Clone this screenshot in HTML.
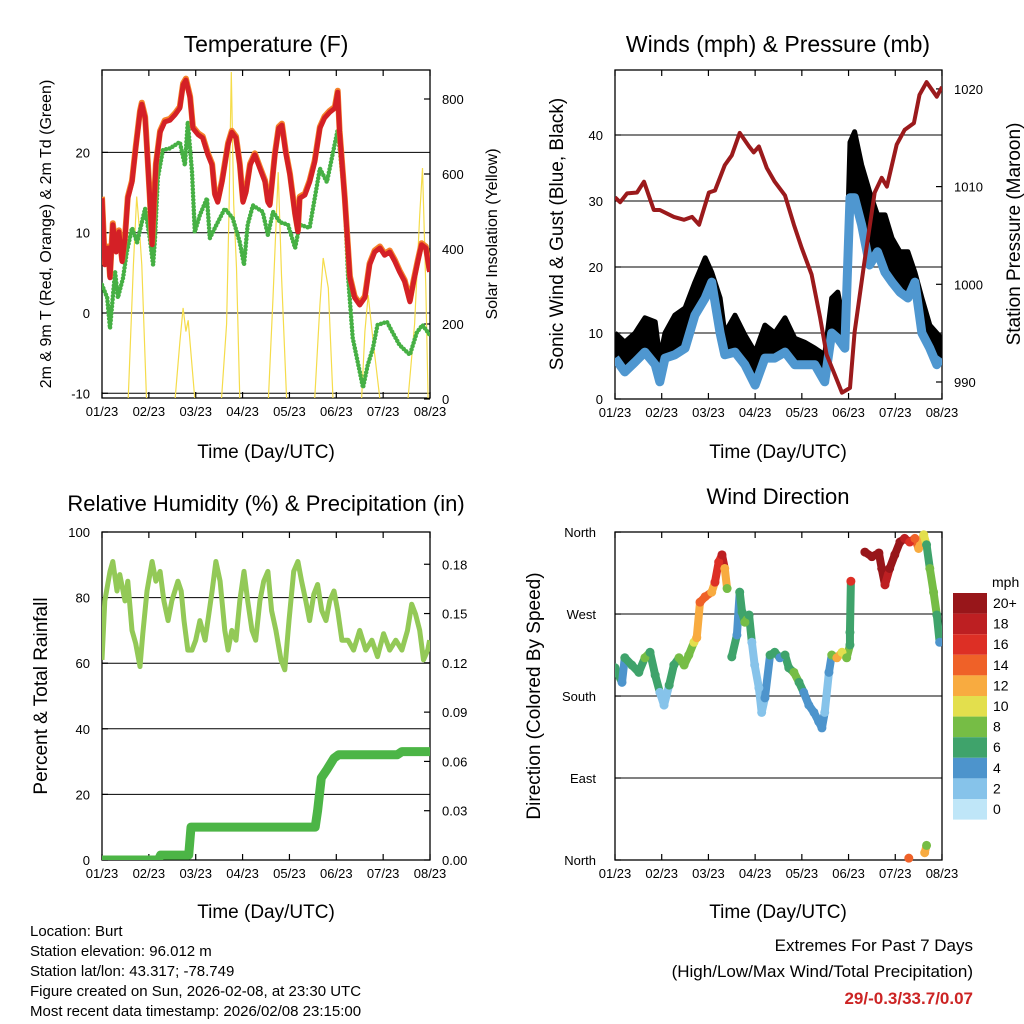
<!DOCTYPE html>
<html><head><meta charset="utf-8"><style>
html,body{margin:0;padding:0;background:#fff}
svg{display:block;font-family:"Liberation Sans",sans-serif}
</style></head><body>
<svg id="svg" width="1024" height="1024" viewBox="0 0 1024 1024" xmlns="http://www.w3.org/2000/svg">
<defs>
<clipPath id="c1"><rect x="102" y="70" width="328" height="328"/></clipPath>
<clipPath id="c2"><rect x="615" y="70" width="327" height="329"/></clipPath>
<clipPath id="c3"><rect x="102" y="532" width="328" height="328"/></clipPath>
<clipPath id="c4"><rect x="615" y="526" width="327" height="340"/></clipPath>
</defs>
<g id="g1"></g>
<g id="g2"></g>
<g id="g3"></g>
<g id="g4"></g>
<g font-size="15" fill="#000">
<text x="30" y="936">Location: Burt</text>
<text x="30" y="956">Station elevation: 96.012 m</text>
<text x="30" y="976">Station lat/lon: 43.317; -78.749</text>
<text x="30" y="996">Figure created on Sun, 2026-02-08, at 23:30 UTC</text>
<text x="30" y="1016">Most recent data timestamp: 2026/02/08 23:15:00</text>
</g>
<g text-anchor="end">
<text x="973" y="951" font-size="17">Extremes For Past 7 Days</text>
<text x="973" y="977" font-size="17">(High/Low/Max Wind/Total Precipitation)</text>
<text x="973" y="1004" font-size="17" font-weight="bold" fill="#cc2424">29/-0.3/33.7/0.07</text>
</g>
</svg>
<script>
// ---------- data ----------
const dayLabels = ["01/23","02/23","03/23","04/23","05/23","06/23","07/23","08/23"];
const tempDays = [0,0.02,0.06,0.13,0.17,0.23,0.30,0.36,0.43,0.49,0.55,0.64,0.72,0.81,0.85,0.92,0.94,1.02,1.07,1.15,1.24,1.34,1.45,1.56,1.66,1.73,1.79,1.88,1.94,2.05,2.15,2.26,2.35,2.41,2.47,2.56,2.69,2.77,2.86,2.94,3.01,3.07,3.16,3.26,3.37,3.48,3.54,3.58,3.69,3.77,3.84,3.92,4.01,4.12,4.18,4.22,4.33,4.43,4.54,4.65,4.75,4.86,4.97,5.03,5.07,5.18,5.29,5.39,5.50,5.61,5.71,5.82,5.93,6.03,6.14,6.25,6.35,6.46,6.57,6.65,6.74,6.82,6.91,6.99];
const tempValues = [14.3,11.8,6,8.1,4.4,11,7.6,10.1,6.4,9.3,14.3,16.3,20.5,25,26,24.3,22.5,14.3,8.5,18.4,22.5,23.8,24,24.7,25.5,28.4,29,26.8,23,22.2,21.8,19.7,18.4,14.7,13.8,16.3,21,22.5,21.8,18.4,13.8,15,18.4,19.7,18,16.3,13.8,13.4,19.7,23,23.4,20,17.2,12.2,10.1,14.3,14.7,16.3,18.8,23,24.3,25,25.5,27.5,22.5,14.3,4.4,1.9,1,1.9,6,7.6,8.1,7.2,7.6,6.4,5.1,3.9,1.4,3.9,6.4,8.5,8.1,5.1];
const dewDays = [0,0.11,0.17,0.28,0.34,0.45,0.53,0.64,0.75,0.92,1.02,1.09,1.13,1.19,1.30,1.45,1.66,1.77,1.83,1.92,1.98,2.09,2.24,2.30,2.41,2.62,2.79,2.94,3.03,3.11,3.22,3.43,3.54,3.65,3.80,3.97,4.12,4.22,4.43,4.65,4.80,4.93,5.03,5.18,5.25,5.35,5.50,5.57,5.67,5.78,5.88,6.08,6.20,6.35,6.57,6.72,6.84,6.99];
const dewValues = [3.5,1.9,-1.9,5.1,1.9,4.4,7.6,10.6,8.8,13,9.3,6,9.3,16.8,20.3,20.5,21.3,18.4,23.8,17.6,10.1,12.2,14.3,9.3,10.6,13,11.8,8.8,6,11,13.4,12.6,9.7,12.6,11.3,11,8.1,11,10.6,18,16.3,20,22.8,14.3,4.7,-3.1,-7.3,-9.3,-6.5,-4.4,-1.5,-1.1,-2.4,-4,-5.2,-2.4,-1.5,-2.7];
const solarDays = [0,0.56,0.67,0.74,0.80,0.85,0.95,1.56,1.66,1.73,1.79,1.84,1.98,2.55,2.66,2.71,2.76,2.81,2.87,2.94,3.55,3.65,3.76,3.83,3.94,4.54,4.65,4.72,4.83,4.93,5.54,5.61,5.68,5.79,5.93,6.53,6.67,6.78,6.84,6.91,6.96,7];
const solarValues = [0,0,357,540,450,357,0,0,150,243,180,210,0,0,200,500,872,520,350,0,0,270,605,330,0,0,250,376,296,0,0,180,277,150,0,0,200,490,616,300,0,0];
const windDays = [0,0.21,0.43,0.64,0.86,0.96,1.07,1.28,1.50,1.71,1.93,2.07,2.25,2.35,2.57,2.78,3.00,3.21,3.42,3.64,3.85,4.06,4.28,4.49,4.64,4.77,4.92,5.03,5.13,5.28,5.45,5.62,5.78,5.93,6.10,6.27,6.42,6.57,6.74,6.89,6.99];
const gustValues = [10,8.6,10,12.3,11.7,6.2,10,12.7,13.8,17.7,21.4,19.2,15.3,10,12.7,9.7,7.1,11.2,10,12.3,9.2,8.6,7.7,6.7,15.3,16.2,10.8,38.9,40.5,35.5,31.4,27.9,27.9,24.4,22.3,22.3,19.2,15.3,11.2,10,9.2];
const sustValues = [6.2,4.1,5.6,7.1,5.2,2.6,6.2,6.7,7.7,12.7,15.3,17.7,10,6.7,7.1,5.2,2.1,6.2,6.2,7.1,5.2,5.2,5.2,2.6,10,9.2,7.7,30.5,30.5,26.4,20.3,22.3,19.2,17.7,16.2,15.3,17.7,10,7.7,5.2,6.2];
const presDays = [0,0.11,0.26,0.47,0.62,0.83,0.96,1.26,1.48,1.65,1.80,2.01,2.14,2.35,2.50,2.67,2.87,2.97,3.08,3.25,3.42,3.64,3.83,4.00,4.21,4.39,4.53,4.71,4.86,5.03,5.13,5.33,5.56,5.71,5.82,6.03,6.20,6.40,6.52,6.67,6.89,7.0];
const presValues = [1008.9,1008.4,1009.3,1009.4,1010.5,1007.6,1007.6,1006.9,1006.6,1006.9,1006.1,1009.4,1009.6,1012.2,1013.2,1015.5,1014.1,1013.5,1014.1,1011.9,1010.5,1009.1,1006.1,1003.7,1001,996.6,992.8,990.7,988.9,989.4,995.1,1002,1009.4,1010.9,1010,1014.3,1015.8,1016.5,1019.4,1020.7,1019.2,1020.2];
const rhDays = [0,0.06,0.17,0.23,0.32,0.38,0.49,0.55,0.64,0.72,0.81,0.87,0.96,1.07,1.15,1.24,1.32,1.41,1.49,1.62,1.69,1.75,1.83,1.92,2.00,2.09,2.20,2.26,2.35,2.43,2.52,2.62,2.69,2.77,2.86,2.94,3.03,3.11,3.20,3.28,3.37,3.45,3.54,3.62,3.71,3.82,3.90,3.99,4.09,4.18,4.26,4.35,4.43,4.52,4.60,4.69,4.78,4.86,4.95,5.03,5.12,5.25,5.37,5.50,5.63,5.76,5.88,6.01,6.14,6.27,6.40,6.52,6.61,6.69,6.78,6.86,6.95,6.99];
const rhValues = [61,79,88,91,82,87,79,85,70,66,59,69,82,91,85,88,79,73,79,85,82,73,64,64,67,73,67,73,82,91,85,70,64,70,67,79,88,79,70,67,79,85,88,76,70,61,58,73,88,91,85,79,73,81,84,76,73,79,82,76,67,67,64,70,64,67,62,69,64,67,64,70,78,75,70,61,64,67];
const precipDays = [0,1.2,1.25,1.85,1.9,4.55,4.6,4.68,4.8,4.95,5.05,6.3,6.4,7];
const precipValues = [0,0,0.003,0.003,0.02,0.02,0.03,0.05,0.055,0.062,0.064,0.064,0.066,0.066];
const dirDays = [0,0.15,0.21,0.36,0.51,0.64,0.75,0.86,0.96,1.05,1.16,1.26,1.37,1.48,1.58,1.69,1.75,1.82,1.93,2.07,2.14,2.22,2.29,2.35,2.40,2.50,2.61,2.67,2.72,2.78,2.87,2.93,2.99,3.08,3.14,3.21,3.32,3.42,3.53,3.64,3.72,3.83,3.94,4.04,4.15,4.26,4.36,4.43,4.49,4.58,4.64,4.75,4.86,4.96,5.03,5.03,5.05,5.35,5.50,5.65,5.71,5.78,5.88,5.99,6.10,6.20,6.31,6.42,6.50,6.61,6.67,6.74,6.82,6.89,6.95,6.29,6.63,6.67];
const dirValues = [211,195,222,214,206,222,228,203,184,170,192,214,222,214,225,239,244,283,289,294,305,327,335,320,298,223,247,294,272,261,269,239,214,189,162,178,225,228,222,225,211,206,195,184,170,162,152,145,162,206,225,222,228,222,236,250,306,338,333,337,320,302,320,335,349,353,349,353,342,357,346,320,294,269,239,2,8,16];
const dirSpeeds = [6,4,6,6,6,8,7,7,2,2,6,7,8,8,8,10,12,14,14,13,16,17,18,12,8,6,4,6,6,8,6,3,2,3,3,4,6,6,5,6,7,8,7,5,4,4,5,4,3,4,9,12,10,9,7,6,16,20,20,21,21,19,20,20,20,18,17,15,12,11,6,8,8,7,5,14,12,8];
const speedLabels = ["0","2","4","6","8","10","12","14","16","18","20+"];
const speedColors = ["#bfe6f8","#86c3ea","#4d94cc","#3fa36b","#76bd45","#e3df4d","#f8ab40","#ef6128","#dd2f25","#bd1f22","#98161a"];

// ---------- helpers ----------
const NS="http://www.w3.org/2000/svg";
function el(parent,tag,attrs,text){const e=document.createElementNS(NS,tag);for(const k in attrs)e.setAttribute(k,attrs[k]);if(text!==undefined)e.textContent=text;parent.appendChild(e);return e;}
function pts(xs,ys,fx,fy){return xs.map((d,i)=>fx(d).toFixed(1)+","+fy(ys[i]).toFixed(1)).join(" ");}

// axis functions
const xL=d=>102+d*46.86, xR=d=>615+d*46.71;
const yT=v=>313-v*8.03, yS=s=>399-s*0.375;
const yW=v=>399-v*6.6, yP=p=>382-(p-990)*9.77;
const yRH=v=>860-v*3.28, yPr=v=>860-v*1643;
const yD=v=>860-v*0.911;

function frame(g,x0,y0,w,h,fx,gridYs,name){
  for(const gy of gridYs){
    const l=el(g,"line",{x1:x0,x2:x0+w,y1:gy,y2:gy,stroke:"#000","stroke-width":1});
    
    
  }
  const r=el(g,"rect",{x:x0,y:y0,width:w,height:h,fill:"none",stroke:"#000","stroke-width":1.3});
  
  
  dayLabels.forEach((lab,i)=>{
    const xx=fx(i);
    el(g,"line",{x1:xx,x2:xx,y1:y0+h,y2:y0+h-6,stroke:"#000","stroke-width":1.2});
    el(g,"line",{x1:xx,x2:xx,y1:y0,y2:y0+6,stroke:"#000","stroke-width":1.2});
    const t=el(g,"text",{x:xx,y:y0+h+18,"font-size":13,"text-anchor":"middle"},lab);
    
    
  });
}
function yTicks(g,vals,fy,x,anchor,side,fmt,name,tickX,inward){
  vals.forEach(v=>{
    const yy=fy(v);
    el(g,"line",{x1:tickX,x2:tickX+inward,y1:yy,y2:yy,stroke:"#000","stroke-width":1.2});
    const t=el(g,"text",{x:x,y:yy+5,"font-size":13,"text-anchor":anchor},fmt(v));
    
    
  });
}
function label(g,txt,x,y,size,rot,name){
  const t=el(g,"text",{x:x,y:y,"font-size":size,"text-anchor":"middle",transform:rot?`rotate(-90 ${x} ${y})`:""},txt);
  
  
  return t;
}

// ---------- panel 1 ----------
const g1=document.getElementById("g1");
label(g1,"Temperature (F)",266,52,23,false,"temperature-title");
frame(g1,102,70,328,328,xL,[-10,0,10,20].map(yT),"temp");
yTicks(g1,[-10,0,10,20],yT,90,"end","l",v=>String(v),"temp-y-tick-label",102,6);
yTicks(g1,[0,200,400,600,800],yS,442,"start","r",v=>String(v),"solar-y-tick-label",430,-6);
label(g1,"Time (Day/UTC)",266,458,19,false,"temp-x-axis-title");
label(g1,"2m & 9m T (Red, Orange) & 2m Td (Green)",51,234,16,true,"temp-left-axis-title");
label(g1,"Solar Insolation (Yellow)",497,234,16,true,"solar-right-axis-title");
const c1=el(g1,"g",{"clip-path":"url(#c1)"});
const sol=el(c1,"polyline",{points:pts(solarDays,solarValues,xL,yS),fill:"none",stroke:"#f5dc4a","stroke-width":1.2});


const dew=el(c1,"polyline",{points:pts(dewDays,dewValues,xL,yT),fill:"none",stroke:"#46b044","stroke-width":4.5,"stroke-dasharray":"0 3.5","stroke-linecap":"round","stroke-linejoin":"round"});


const t9=el(c1,"polyline",{points:pts(tempDays,tempValues,xL,v=>yT(v)-1.5),fill:"none",stroke:"#f5822a","stroke-width":6,"stroke-linejoin":"round"});


const t2=el(c1,"polyline",{points:pts(tempDays,tempValues,xL,yT),fill:"none",stroke:"#d42026","stroke-width":5,"stroke-linejoin":"round"});



// ---------- panel 2 ----------
const g2=document.getElementById("g2");
label(g2,"Winds (mph) & Pressure (mb)",778,52,23,false,"winds-title");
frame(g2,615,70,327,329,xR,[10,20,30,40].map(yW),"wind");
yTicks(g2,[0,10,20,30,40],yW,603,"end","l",v=>String(v),"wind-y-tick-label",615,6);
yTicks(g2,[990,1000,1010,1020],yP,954,"start","r",v=>String(v),"pressure-y-tick-label",942,-6);
label(g2,"Time (Day/UTC)",778,458,19,false,"wind-x-axis-title");
label(g2,"Sonic Wind & Gust (Blue, Black)",563,234,19,true,"wind-left-axis-title");
label(g2,"Station Pressure (Maroon)",1020,234,19,true,"pressure-right-axis-title");
const c2=el(g2,"g",{"clip-path":"url(#c2)"});
let area=windDays.map((d,i)=>xR(d).toFixed(1)+","+yW(gustValues[i]).toFixed(1));
for(let i=windDays.length-1;i>=0;i--)area.push(xR(windDays[i]).toFixed(1)+","+yW(sustValues[i]).toFixed(1));
const ga=el(c2,"polygon",{points:area.join(" "),fill:"#000"});


const gl=el(c2,"polyline",{points:pts(windDays,gustValues,xR,yW),fill:"none",stroke:"#000","stroke-width":5,"stroke-linejoin":"round"});


const sl=el(c2,"polyline",{points:pts(windDays,sustValues,xR,yW),fill:"none",stroke:"#4f97d0","stroke-width":9,"stroke-linejoin":"round"});


const pl=el(c2,"polyline",{points:pts(presDays,presValues,xR,yP),fill:"none",stroke:"#9b1a1c","stroke-width":4,"stroke-linejoin":"round"});



// ---------- panel 3 ----------
const g3=document.getElementById("g3");
label(g3,"Relative Humidity (%) & Precipitation (in)",266,511,22,false,"humidity-title");
frame(g3,102,532,328,328,xL,[20,40,60,80].map(yRH),"rh");
yTicks(g3,[0,20,40,60,80,100],yRH,90,"end","l",v=>String(v),"rh-y-tick-label",102,6);
yTicks(g3,[0,0.03,0.06,0.09,0.12,0.15,0.18],v=>860-v*1643,442,"start","r",v=>v.toFixed(2),"precip-y-tick-label",430,-6);
label(g3,"Time (Day/UTC)",266,918,19,false,"rh-x-axis-title");
label(g3,"Percent & Total Rainfall",47,696,19,true,"rh-left-axis-title");
const c3=el(g3,"g",{"clip-path":"url(#c3)"});
const rl=el(c3,"polyline",{points:pts(rhDays,rhValues,xL,yRH),fill:"none",stroke:"#93c957","stroke-width":5,"stroke-linejoin":"round"});


const prl=el(c3,"polyline",{points:pts(precipDays,precipValues,xL,yPr),fill:"none",stroke:"#4cb546","stroke-width":9,"stroke-linejoin":"round","stroke-linecap":"round"});



// ---------- panel 4 ----------
const g4=document.getElementById("g4");
label(g4,"Wind Direction",778,504,22,false,"wind-direction-title");
frame(g4,615,532,327,328,xR,[90,180,270].map(yD),"dir");
const dirNames=["North","East","South","West","North"];
[0,90,180,270,360].forEach((v,i)=>{
  const yy=yD(v);
  el(g4,"line",{x1:615,x2:621,y1:yy,y2:yy,stroke:"#000","stroke-width":1.2});
  const t=el(g4,"text",{x:596,y:yy+5,"font-size":13,"text-anchor":"end"},dirNames[i]);
  
  
});
label(g4,"Time (Day/UTC)",778,918,19,false,"dir-x-axis-title");
label(g4,"Direction (Colored By Speed)",540,696,19,true,"dir-left-axis-title");
const c4=el(g4,"g",{"clip-path":"url(#c4)"});
const colOf=s=>speedColors[Math.min(10,Math.floor(s/2))];
for(let i=0;i<dirDays.length-1;i++){
  if(Math.abs(dirDays[i+1]-dirDays[i])<0.2 && Math.abs(dirValues[i+1]-dirValues[i])<60){
    const sg=el(c4,"line",{x1:xR(dirDays[i]),y1:yD(dirValues[i]),x2:xR(dirDays[i+1]),y2:yD(dirValues[i+1]),stroke:colOf(dirSpeeds[i]),"stroke-width":8,"stroke-linecap":"round"});
    
    
  }
}
dirDays.forEach((d,i)=>{
  const c=el(c4,"circle",{cx:xR(d),cy:yD(dirValues[i]),r:4.5,fill:colOf(dirSpeeds[i])});
  
  
});
// colorbar
const cb=el(g4,"g",{});


el(cb,"text",{x:992,y:587,"font-size":14},"mph");
speedLabels.forEach((lab,i)=>{
  const k=10-i;
  const yy=593+i*20.6;
  const b=el(cb,"rect",{x:953,y:yy,width:34,height:20.6,fill:speedColors[k]});
  
  
  const t=el(cb,"text",{x:993,y:yy+15,"font-size":14},speedLabels[k]);
  
  
});
</script>
</body></html>
